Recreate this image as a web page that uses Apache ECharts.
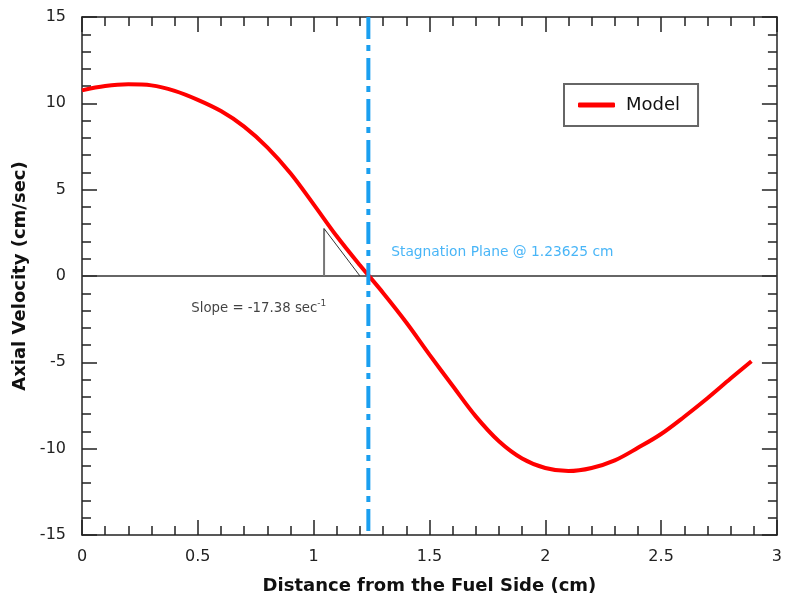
<!DOCTYPE html>
<html>
<head>
<meta charset="utf-8">
<script src="https://cdn.jsdelivr.net/npm/echarts@6/dist/echarts.min.js"></script>
<style>
html,body{margin:0;padding:0;background:#fff;}
#chart{width:785px;height:600px;}
</style>
</head>
<body>
<div id="chart"></div>
<script>
// ---- data ----
const distance = [0,0.1,0.2,0.3,0.4,0.5,0.6,0.7,0.8,0.9,1.0,1.1,1.2,1.3,1.4,1.5,1.6,1.7,1.8,1.9,2.0,2.1,2.2,2.3,2.4,2.5,2.6,2.7,2.8,2.89];
const velocity = [10.75,11.0,11.1,11.04,10.72,10.2,9.55,8.65,7.45,5.95,4.15,2.3,0.62,-0.98,-2.69,-4.55,-6.36,-8.13,-9.57,-10.57,-11.12,-11.3,-11.12,-10.68,-9.95,-9.15,-8.15,-7.08,-5.94,-4.94];
const stagnationX = 1.23625;
const yRange = [-15, 15];
const xRange = [0, 3];
const slopeTriVert = [[1.045, 0], [1.045, 2.75]];
const slopeTriHyp = [[1.045, 2.75], [1.2, 0]];
const stagLabelPos = [1.335, 1.35];
const slopeLabelPos = [0.472, -1.87];
const xTicks = ['0','0.5','1','1.5','2','2.5','3'];

const FONT = 'DejaVu Sans';
const chart = echarts.init(document.getElementById('chart'), null, {renderer:'canvas'});

const axisCommon = {
  axisLine: {show: true, onZero: false, lineStyle: {color: '#222', width: 1.5}},
  axisTick: {show: true, inside: true, length: 15, lineStyle: {color: '#222', width: 1.5}},
  minorTick: {show: true, splitNumber: 5, length: 9, lineStyle: {color: '#222', width: 1.5}},
  splitLine: {show: false}
};

const option = {
  backgroundColor: '#fff',
  animation: false,
  grid: {left: 82, right: 3, top: 17, bottom: 62},
  legend: {
    data: ['Model'],
    left: 564, top: 84,
    orient: 'vertical',
    padding: [12, 18, 12, 14],
    borderColor: '#666', borderWidth: 2,
    itemWidth: 37, itemHeight: 5, itemGap: 10,
    icon: 'roundRect',
    textStyle: {fontFamily: FONT, fontSize: 18, color: '#111', padding: [0,0,0,6]}
  },
  xAxis: [
    Object.assign({}, axisCommon, {
      type: 'value', min: xRange[0], max: xRange[1], interval: 0.5, position: 'bottom',
      axisLabel: {fontFamily: FONT, fontSize: 16, color: '#222', margin: 14,
        formatter: function(v){ const i = Math.round(v/0.5); return xTicks[i] !== undefined ? xTicks[i] : ''; }},
      name: 'Distance from the Fuel Side (cm)', nameLocation: 'middle', nameGap: 42,
      nameTextStyle: {fontFamily: FONT, fontSize: 18, fontWeight: 'bold', color: '#111'}
    }),
    Object.assign({}, axisCommon, {
      type: 'value', min: xRange[0], max: xRange[1], interval: 0.5, position: 'top',
      axisLabel: {show: false}
    })
  ],
  yAxis: [
    Object.assign({}, axisCommon, {
      type: 'value', min: yRange[0], max: yRange[1], interval: 5, position: 'left',
      axisLabel: {fontFamily: FONT, fontSize: 16, color: '#222', margin: 16},
      name: 'Axial Velocity (cm/sec)', nameLocation: 'middle', nameGap: 49,
      nameTextStyle: {fontFamily: FONT, fontSize: 18, fontWeight: 'bold', color: '#111'}
    }),
    Object.assign({}, axisCommon, {
      type: 'value', min: yRange[0], max: yRange[1], interval: 5, position: 'right',
      axisLabel: {show: false}
    })
  ],
  series: [
    {
      name: 'zero', type: 'line', symbol: 'none', silent: true,
      data: [[xRange[0], 0], [xRange[1], 0]],
      lineStyle: {color: '#333', width: 1.5}, z: 1
    },
    {
      name: 'triVert', type: 'line', symbol: 'none', silent: true,
      data: slopeTriVert, lineStyle: {color: '#777', width: 2}, z: 2
    },
    {
      name: 'triHyp', type: 'line', symbol: 'none', silent: true,
      data: slopeTriHyp, lineStyle: {color: '#333', width: 1}, z: 2
    },
    {
      name: 'Model', type: 'line', symbol: 'none', smooth: 0.35,
      data: distance.map((x, i) => [x, velocity[i]]),
      lineStyle: {color: '#ff0000', width: 4}, itemStyle: {color: '#ff0000'}, z: 3
    },
    {
      name: 'stag', type: 'line', symbol: 'none', silent: true,
      data: [[stagnationX, yRange[1]], [stagnationX, yRange[0]]],
      lineStyle: {color: '#1a9ff0', width: 4, type: [22, 6, 6, 7]}, z: 4
    },
    {
      name: 'labels', type: 'scatter', symbolSize: 0, silent: true,
      data: [
        {value: stagLabelPos, label: {show: true, position: 'right', distance: 0,
          formatter: 'Stagnation Plane @ 1.23625 cm',
          fontFamily: FONT, fontSize: 13.8, color: '#1aa3f5'}},
        {value: slopeLabelPos, label: {show: true, position: 'right', distance: 0,
          formatter: '{a|Slope = -17.38 sec}{s|-1}',
          rich: {
            a: {fontFamily: FONT, fontSize: 13.3, color: '#111'},
            s: {fontFamily: FONT, fontSize: 9, color: '#111', padding: [0, 0, 9, 0]}
          }}}
      ],
      z: 5
    }
  ]
};
chart.setOption(option);
</script>
</body>
</html>
